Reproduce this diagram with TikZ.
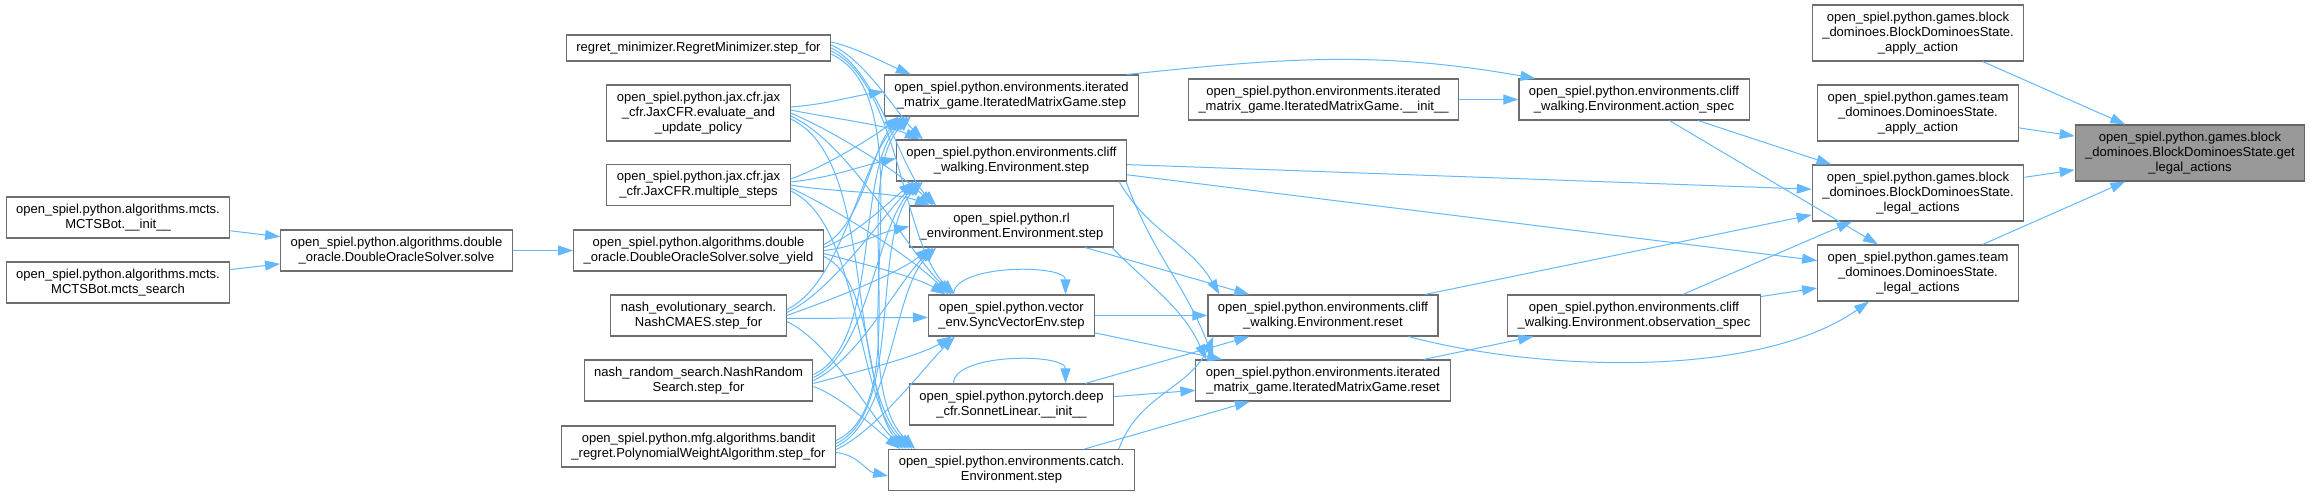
\documentclass[tikz,border=0pt]{standalone}
\usepackage{fontspec}
\setmainfont{Liberation Sans}
\usetikzlibrary{arrows.meta}
\definecolor{edgeblue}{HTML}{63B8FF}
\definecolor{boxgray}{HTML}{6E6E6E}
\definecolor{rootgray}{HTML}{999999}

\begin{document}
\begin{tikzpicture}[x=1pt,y=1pt,
  fn/.style={draw=boxgray,fill=white,line width=1.1pt,align=center,inner xsep=10pt,inner ysep=0pt,minimum height=41pt,font=\fontsize{13}{15}\selectfont},
  fnone/.style={fn,minimum height=26pt},
  fnthree/.style={fn,minimum height=56pt},
  calls/.style={draw=edgeblue,line width=1pt,-{Triangle[length=15pt,width=10pt]}}]
  \useasboundingbox (0,0) rectangle (2312,496);

  \node[fn] (mctsinit) at (118,278.5) {open\_spiel.python.algorithms.mcts.\\MCTSBot.\_\_init\_\_};
  \node[fn] (mctssearch) at (118,213.5) {open\_spiel.python.algorithms.mcts.\\MCTSBot.mcts\_search};
  \node[fn] (solve) at (396.5,245.5) {open\_spiel.python.algorithms.double\\\_oracle.DoubleOracleSolver.solve};

  \node[fnone] (regret) at (698.5,448) {regret\_minimizer.RegretMinimizer.step\_for};
  \node[fnthree] (evalpolicy) at (698.5,383) {open\_spiel.python.jax.cfr.jax\\\_cfr.JaxCFR.evaluate\_and\\\_update\_policy};
  \node[fn] (multisteps) at (698.5,311) {open\_spiel.python.jax.cfr.jax\\\_cfr.JaxCFR.multiple\_steps};
  \node[fn] (solveyield) at (698.5,245.5) {open\_spiel.python.algorithms.double\\\_oracle.DoubleOracleSolver.solve\_yield};
  \node[fn] (nashcmaes) at (698.5,180.5) {nash\_evolutionary\_search.\\NashCMAES.step\_for};
  \node[fn] (nashrandom) at (698.5,115.5) {nash\_random\_search.NashRandom\\Search.step\_for};
  \node[fn] (bandit) at (698.5,49.5) {open\_spiel.python.mfg.algorithms.bandit\\\_regret.PolynomialWeightAlgorithm.step\_for};

  \node[fn] (imgstep) at (1011.5,400.5) {open\_spiel.python.environments.iterated\\\_matrix\_game.IteratedMatrixGame.step};
  \node[fn] (cliffstep) at (1011.5,335.5) {open\_spiel.python.environments.cliff\\\_walking.Environment.step};
  \node[fn] (rlstep) at (1011.5,269.5) {open\_spiel.python.rl\\\_environment.Environment.step};
  \node[fn] (vecstep) at (1011.5,180.5) {open\_spiel.python.vector\\\_env.SyncVectorEnv.step};
  \node[fn] (sonnet) at (1011.5,91.5) {open\_spiel.python.pytorch.deep\\\_cfr.SonnetLinear.\_\_init\_\_};
  \node[fn] (catchstep) at (1011.5,26) {open\_spiel.python.environments.catch.\\Environment.step};

  \node[fn] (imginit) at (1323.5,396.5) {open\_spiel.python.environments.iterated\\\_matrix\_game.IteratedMatrixGame.\_\_init\_\_};
  \node[fn] (cliffreset) at (1323,180.5) {open\_spiel.python.environments.cliff\\\_walking.Environment.reset};
  \node[fn] (imgreset) at (1323,115.5) {open\_spiel.python.environments.iterated\\\_matrix\_game.IteratedMatrixGame.reset};

  \node[fn] (actionspec) at (1634,396.5) {open\_spiel.python.environments.cliff\\\_walking.Environment.action\_spec};
  \node[fn] (obsspec) at (1634,180.5) {open\_spiel.python.environments.cliff\\\_walking.Environment.observation\_spec};

  \node[fnthree] (blockapply) at (1918,463) {open\_spiel.python.games.block\\\_dominoes.BlockDominoesState.\\\_apply\_action};
  \node[fnthree] (teamapply) at (1918,383) {open\_spiel.python.games.team\\\_dominoes.DominoesState.\\\_apply\_action};
  \node[fnthree] (blocklegal) at (1918,303) {open\_spiel.python.games.block\\\_dominoes.BlockDominoesState.\\\_legal\_actions};
  \node[fnthree] (teamlegal) at (1918,223) {open\_spiel.python.games.team\\\_dominoes.DominoesState.\\\_legal\_actions};
  \node[fnthree,fill=rootgray,draw=black!60] (getlegal) at (2190,343) {open\_spiel.python.games.block\\\_dominoes.BlockDominoesState.get\\\_legal\_actions};

  \draw[calls] (mctsinit) -- (solve);
  \draw[calls] (mctssearch) -- (solve);
  \draw[calls] (solve) -- (solveyield);
  \foreach \src/\ys [count=\i] in {regret/448,evalpolicy/383,multisteps/311,solveyield/245.5,nashcmaes/180.5,nashrandom/115.5,bandit/49.5}
    \foreach \dst/\yd [count=\j] in {imgstep/400.5,cliffstep/335.5,rlstep/269.5,vecstep/180.5,catchstep/26}{
      \pgfmathsetmacro\dy{\yd-\ys}
      \pgfmathsetmacro\ang{atan2(\dy,110)}
      \pgfmathsetmacro\aout{max(-25,min(25,0.5*\ang))}
      \pgfmathsetmacro\ain{180+max(-45,min(45,\ang))}
      \ifdim\dy pt>30pt
        \draw[calls] ([yshift={(3-\j)*3pt}]\src.east) to[out=\aout,in=\ain,looseness=0.7] ([xshift={3pt*\i+6pt}]\dst.south west);
      \else\ifdim\dy pt<-30pt
        \draw[calls] ([yshift={(3-\j)*3pt}]\src.east) to[out=\aout,in=\ain,looseness=0.7] ([xshift={3pt*(8-\i)+6pt}]\dst.north west);
      \else
        \draw[calls] ([yshift={(3-\j)*3pt}]\src.east) to[out=\aout,in=\ain] ([yshift={(4-\i)*2pt}]\dst.west);
      \fi\fi
    }
  \draw[calls] ([xshift=-58pt]vecstep.north) to[out=90,in=90,looseness=0.7] ([xshift=54pt]vecstep.north);
  \draw[calls] ([xshift=-58pt]sonnet.north) to[out=90,in=90,looseness=0.7] ([xshift=54pt]sonnet.north);

  \draw[calls] ([xshift=-12pt]imgstep.north east) to[out=6,in=170] ([xshift=17pt]actionspec.north west);
  \draw[calls] (imginit) -- (actionspec);
  \draw[calls] (cliffstep) -- (blocklegal);
  \draw[calls] (cliffstep) -- (teamlegal);
  \draw[calls] ([xshift=-8pt]cliffstep.south east) to[out=-60,in=120] ([xshift=12pt]cliffreset.north west);
  \draw[calls] ([xshift=-1pt]cliffstep.south east) to[out=-70,in=110] ([xshift=18pt]imgreset.north west);
  \draw[calls] (rlstep) -- (cliffreset);
  \draw[calls] ([xshift=-2pt]rlstep.south east) to[out=-45,in=115] ([xshift=11pt]imgreset.north west);
  \draw[calls] (vecstep) -- (cliffreset);
  \draw[calls] (vecstep) -- (imgreset);
  \draw[calls] (sonnet) -- (cliffreset);
  \draw[calls] (sonnet) -- (imgreset);
  \draw[calls] (catchstep) -- (imgreset);
  \draw[calls] ([xshift=-16pt]catchstep.north east) to[out=70,in=-115] ([xshift=6pt]cliffreset.south west);

  \draw[calls] (actionspec) -- (blocklegal);
  \draw[calls] (actionspec) -- ([xshift=-40pt]teamlegal.north);
  \draw[calls] (cliffreset) -- (blocklegal);
  \draw[calls] ([xshift=-30pt]cliffreset.south east) to[out=-15,in=-145,looseness=0.75] ([xshift=-49pt]teamlegal.south);
  \draw[calls] (imgreset) -- (obsspec);
  \draw[calls] (obsspec) -- (blocklegal);
  \draw[calls] (obsspec) -- (teamlegal);
  \foreach \src in {blockapply,teamapply,blocklegal,teamlegal}
    \draw[calls] (\src) -- (getlegal);
\end{tikzpicture}
\end{document}
